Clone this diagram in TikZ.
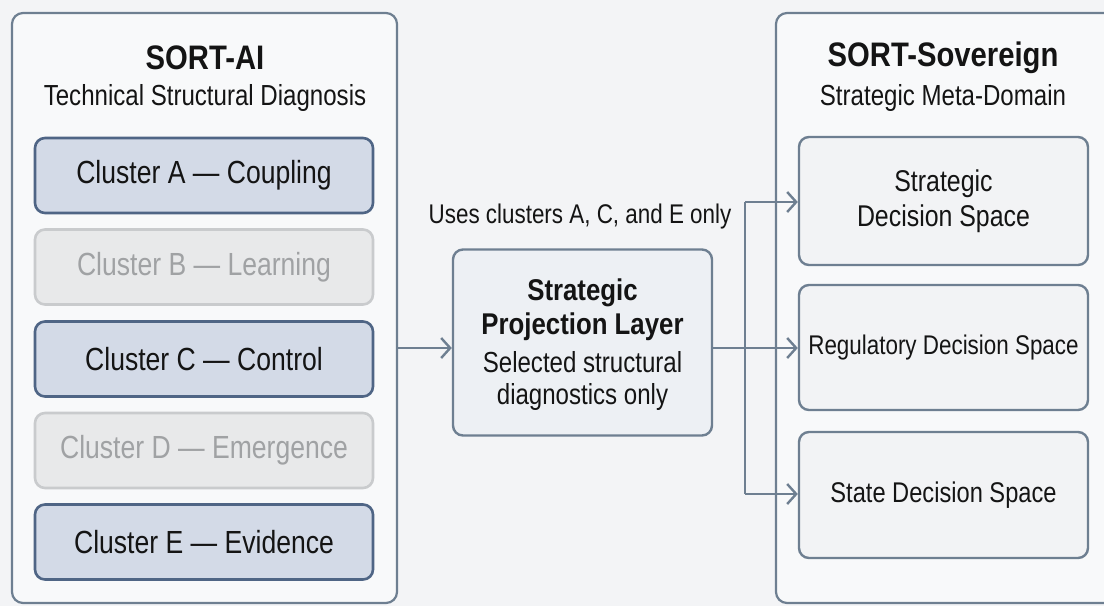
\documentclass[tikz,border=0pt]{standalone}
\usepackage{fontspec}
\setmainfont{Liberation Sans}[FakeStretch=0.83, BoldFeatures={FakeStretch=0.86}]
\usetikzlibrary{arrows.meta}

\definecolor{bgcol}{HTML}{F3F4F6}
\definecolor{panelfill}{HTML}{F8F9FA}
\definecolor{linecol}{HTML}{6E7F91}
\definecolor{actfill}{HTML}{D3DAE7}
\definecolor{actdraw}{HTML}{4F6585}
\definecolor{offfill}{HTML}{E8E9EA}
\definecolor{offdraw}{HTML}{C9CBCD}
\definecolor{offtext}{HTML}{A0A2A4}
\definecolor{projfill}{HTML}{EDF0F4}
\definecolor{decfill}{HTML}{F2F3F5}
\definecolor{ink}{HTML}{141414}

\tikzset{
  panel/.style={draw=linecol, fill=panelfill, line width=2.2pt, rounded corners=11pt, inner sep=0pt},
  clusteron/.style={draw=actdraw, fill=actfill, line width=2.6pt, rounded corners=10pt,
    minimum width=338pt, minimum height=75pt, inner sep=0pt, text=ink,
    font=\fontsize{32}{36}\selectfont},
  clusteroff/.style={draw=offdraw, fill=offfill, line width=2.6pt, rounded corners=10pt,
    minimum width=338pt, minimum height=75pt, inner sep=0pt, text=offtext,
    font=\fontsize{32}{36}\selectfont},
  decbox/.style={draw=linecol, fill=decfill, line width=2.4pt, rounded corners=10pt,
    minimum width=289pt, inner sep=0pt, text=ink, align=center},
  projbox/.style={draw=linecol, fill=projfill, line width=2.4pt, rounded corners=10pt,
    minimum width=259pt, minimum height=186pt, inner sep=0pt},
  heading/.style={text=ink, font=\bfseries\fontsize{34}{38}\selectfont},
  subheading/.style={text=ink, font=\fontsize{29}{32}\selectfont},
  txt/.style={text=ink, inner sep=0pt},
  conn/.style={draw=linecol, line width=2.4pt},
  arr/.style={conn, -{Straight Barb[length=9pt, width=20pt, line width=2.4pt]}},
}

\begin{document}
\begin{tikzpicture}[x=1pt, y=-1pt]
  \useasboundingbox (0,0) rectangle (1104,606);
  \clip (0,0) rectangle (1104,606);
  \fill[bgcol] (0,0) rectangle (1104,606);

  % SORT-AI panel
  \node[panel, minimum width=385pt, minimum height=590pt] (ai) at (204.5,308) {};
  \node[heading] (aititle) at (205,58) {SORT-AI};
  \node[subheading] (aisub) at (205,98) {Technical Structural Diagnosis};

  \node[clusteron]  (ca) at (204,175.5) {Cluster A — Coupling};
  \node[clusteroff] (cb) at (204,267)   {Cluster B — Learning};
  \node[clusteron]  (cc) at (204,359)   {Cluster C — Control};
  \node[clusteroff] (cd) at (204,450.5) {Cluster D — Emergence};
  \node[clusteron]  (ce) at (204,542)   {Cluster E — Evidence};

  % SORT-Sovereign panel (runs past the right edge)
  \node[panel, minimum width=360pt, minimum height=590pt] (sov) at (956,308) {};
  \node[heading] (sovtitle) at (943,58) {SORT-Sovereign};
  \node[subheading] (sovsub) at (943,98) {Strategic Meta-Domain};

  \node[decbox, minimum height=128pt, font=\fontsize{30}{35}\selectfont] (ds1) at (943.5,201)
    {Strategic\\Decision Space};
  \node[decbox, minimum height=125pt, font=\fontsize{27}{30}\selectfont] (ds2) at (943.5,347.5)
    {Regulatory Decision Space};
  \node[decbox, minimum height=126pt, font=\fontsize{28.5}{32}\selectfont] (ds3) at (943.5,495)
    {State Decision Space};

  % Projection layer
  \node[projbox] (proj) at (582.5,342.5) {};
  \node[txt, font=\bfseries\fontsize{30}{34}\selectfont, align=center] (projtitle) at (582.5,310)
    {Strategic\\Projection Layer};
  \node[txt, font=\fontsize{29}{32}\selectfont, align=center] (projsub) at (582.5,381)
    {Selected structural\\diagnostics only};
  \node[txt, font=\fontsize{27}{30}\selectfont] (uses) at (580,217) {Uses clusters A, C, and E only};

  % Connectors
  \coordinate (inrow) at (0,348);
  \coordinate (hub) at (745,348);
  \draw[arr] (ai.east |- inrow) -- (proj.west |- inrow);
  \draw[conn] (proj.east |- hub) -- (hub);
  \draw[conn] (hub |- 0,202) -- (hub |- 0,494);
  \draw[arr] (hub |- 0,202) -- (ds1.west |- 0,202);
  \draw[arr] (hub) -- (ds2.west |- hub);
  \draw[arr] (hub |- 0,494) -- (ds3.west |- 0,494);
\end{tikzpicture}
\end{document}
